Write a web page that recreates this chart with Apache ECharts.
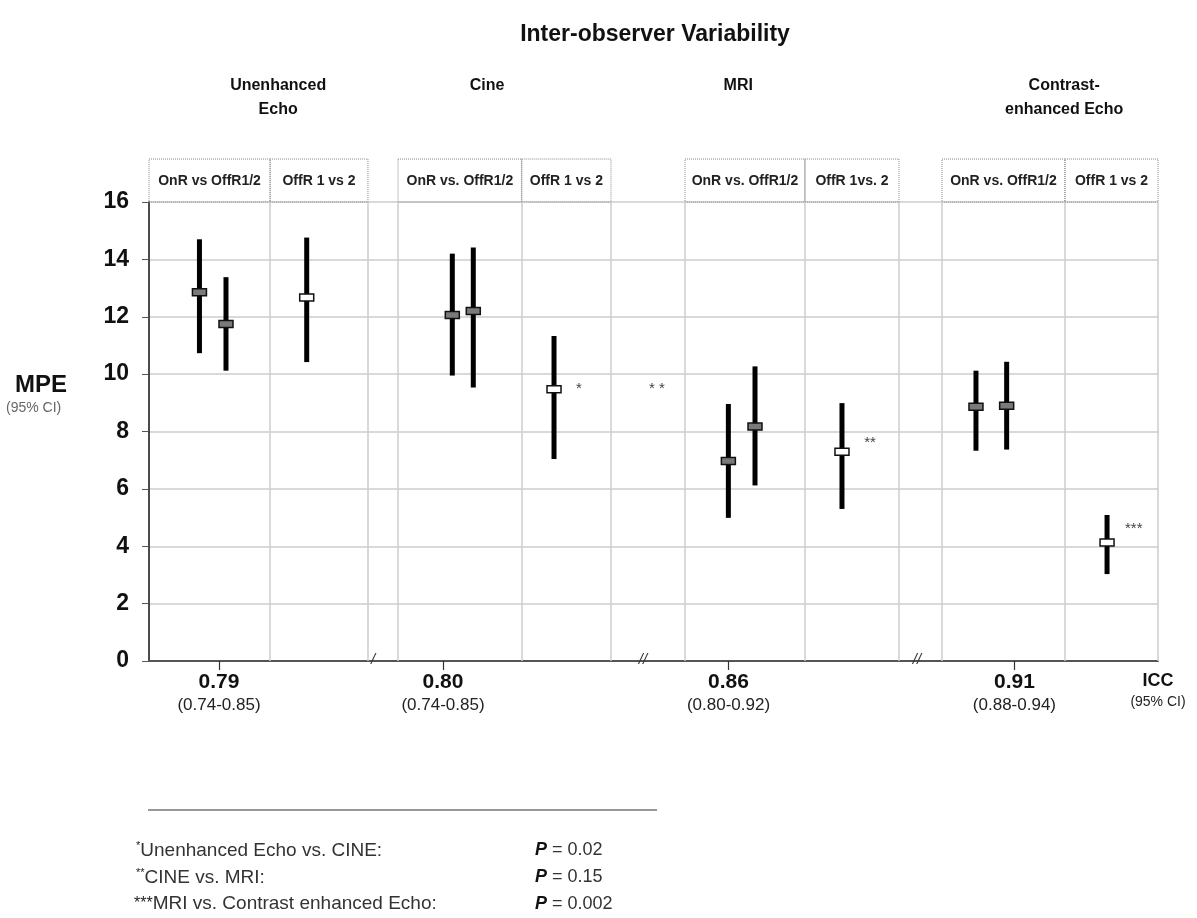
<!DOCTYPE html>
<html>
<head>
<meta charset="utf-8">
<script src="https://cdn.jsdelivr.net/npm/echarts@6/dist/echarts.min.js"></script>
<style>
  * { margin: 0; padding: 0; }
  html, body { background: #fff; }
  #chart { width: 1197px; height: 918px; }
</style>
</head>
<body>
<div id="chart"></div>
<script>
  // x runs 0..100 across the plot; y is MPE (%)
  var yTicks = [0, 2, 4, 6, 8, 10, 12, 14, 16]

  // [x, mean, low, high, offline-vs-offline ? 1 : 0]
  var echoBars = [[5.0, 12.85, 10.73, 14.7, 0], [7.63, 11.75, 10.12, 13.38, 0], [15.63, 12.67, 10.42, 14.76, 1]]
  var cineBars = [[30.06, 12.06, 9.95, 14.2, 0], [32.14, 12.2, 9.53, 14.41, 0], [40.14, 9.47, 7.04, 11.33, 1]]
  var mriBars = [[57.42, 6.97, 4.99, 8.96, 0], [60.06, 8.17, 6.12, 10.27, 0], [68.68, 7.29, 5.3, 8.99, 1]]
  var ceBars = [[81.96, 8.86, 7.33, 10.12, 0], [85.0, 8.9, 7.37, 10.43, 0], [94.95, 4.13, 3.03, 5.09, 1]]

  var gridX = [12.0, 21.7, 24.68, 36.94, 45.79, 53.12, 65.01, 74.33, 78.59, 90.78, 100]

  var groupNames = ['Unenhanced\nEcho', 'Cine', 'MRI', 'Contrast-\nenhanced Echo']
  var groupX = [12.8, 33.5, 58.4, 90.7]

  // header boxes: [from, to, text]
  var headers = [
    [0, 12.0, 'OnR vs OffR1/2'], [12.0, 21.7, 'OffR 1 vs 2'],
    [24.68, 36.94, 'OnR vs. OffR1/2'], [36.94, 45.79, 'OffR 1 vs 2'],
    [53.12, 65.01, 'OnR vs. OffR1/2'], [65.01, 74.33, 'OffR 1vs. 2'],
    [78.59, 90.78, 'OnR vs. OffR1/2'], [90.78, 100, 'OffR 1 vs 2'],
  ]

  var iccX = [6.94, 29.14, 57.43, 85.77]
  var iccValue = ['0.79', '0.80', '0.86', '0.91']
  var iccCI = ['(0.74-0.85)', '(0.74-0.85)', '(0.80-0.92)', '(0.88-0.94)']

  var starNotes = [[42.6, 9.5, '*'], [50.35, 9.5, '* *'], [71.46, 7.6, '**'], [97.6, 4.6, '***']]
  var axisBreaks = [[22.2, '/'], [48.96, '//'], [76.11, '//']]

  var footLabels = ['Unenhanced Echo vs. CINE:', 'CINE vs. MRI:', 'MRI vs. Contrast enhanced Echo:']
  var footMarks = ['*', '**', '***']
  var footP = ['0.02', '0.15', '0.002']

  var allBars = echoBars.concat(cineBars, mriBars, ceBars)

  var chart = echarts.init(document.getElementById('chart'), null, { renderer: 'canvas' })
  var font = 'Liberation Sans, Arial, sans-serif'

  function renderBar(params, api) {
    var x = api.value(0)
    var m = api.coord([x, api.value(1)])
    var lo = api.coord([x, api.value(2)])
    var hi = api.coord([x, api.value(3)])
    return {
      type: 'group',
      children: [
        { type: 'line', shape: { x1: m[0], y1: lo[1], x2: m[0], y2: hi[1] }, style: { stroke: '#000', lineWidth: 5 } },
        {
          type: 'rect',
          shape: { x: m[0] - 7, y: m[1] - 3.5, width: 14, height: 7 },
          style: { fill: api.value(4) ? '#fff' : '#7a7a7a', stroke: '#111', lineWidth: 1.5 },
        },
      ],
    }
  }

  function renderHeader(params, api) {
    var a = api.coord([api.value(0), 16])
    var b = api.coord([api.value(1), 16])
    return {
      type: 'group',
      children: [
        {
          type: 'rect',
          shape: { x: a[0], y: a[1] - 43, width: b[0] - a[0], height: 43 },
          style: { fill: 'none', stroke: '#888', lineWidth: 1, lineDash: [1, 1] },
        },
        {
          type: 'text',
          x: (a[0] + b[0]) / 2,
          y: a[1] - 21,
          style: {
            text: headers[params.dataIndex][2], align: 'center', verticalAlign: 'middle',
            font: 'bold 14px ' + font, fill: '#222',
          },
        },
      ],
    }
  }

  function renderGroup(params, api) {
    var p = api.coord([api.value(0), 16])
    return {
      type: 'text',
      x: p[0],
      y: p[1] - 128,
      style: {
        text: groupNames[params.dataIndex], align: 'center', verticalAlign: 'top',
        font: 'bold 16px ' + font, fill: '#111', lineHeight: 24,
      },
    }
  }

  function renderNote(params, api) {
    var p = api.coord([api.value(0), api.value(1)])
    return {
      type: 'text', x: p[0], y: p[1],
      style: { text: starNotes[params.dataIndex][2], align: 'center', verticalAlign: 'middle', font: '15px ' + font, fill: '#444' },
    }
  }

  function renderBreak(params, api) {
    var p = api.coord([api.value(0), 0])
    return {
      type: 'text', x: p[0], y: p[1] - 1,
      style: { text: axisBreaks[params.dataIndex][1], align: 'center', verticalAlign: 'middle', font: 'italic 15px ' + font, fill: '#333' },
    }
  }

  var iccLabelX = iccX.concat([100])

  var option = {
    backgroundColor: '#fff',
    animation: false,
    title: {
      text: 'Inter-observer Variability',
      left: 650, top: 18, textAlign: 'center',
      textStyle: { fontFamily: font, fontWeight: 'bold', fontSize: 23, color: '#111' },
    },
    grid: { left: 149, right: 39, top: 202, bottom: 257 },
    xAxis: {
      type: 'value', min: 0, max: 100,
      axisLine: { show: true, lineStyle: { color: '#555', width: 2 } },
      axisTick: { show: true, customValues: iccX, length: 9, lineStyle: { color: '#333', width: 1.2 } },
      axisLabel: {
        show: true, customValues: iccLabelX, margin: 8,
        formatter: function (v) {
          var i = iccX.indexOf(v)
          if (i < 0) return '{h|ICC}\n{c|(95% CI)}'
          return '{b|' + iccValue[i] + '}\n{s|' + iccCI[i] + '}'
        },
        rich: {
          b: { fontFamily: font, fontWeight: 'bold', fontSize: 21, color: '#111', lineHeight: 26 },
          s: { fontFamily: font, fontSize: 17, color: '#222', lineHeight: 20 },
          h: { fontFamily: font, fontWeight: 'bold', fontSize: 18, color: '#111', lineHeight: 24 },
          c: { fontFamily: font, fontSize: 14, color: '#222', lineHeight: 18 },
        },
      },
      splitLine: { show: false },
    },
    yAxis: {
      type: 'value', min: 0, max: 16, interval: 2,
      axisLine: { show: true, lineStyle: { color: '#111', width: 1.5 } },
      axisTick: { show: true, length: 7, lineStyle: { color: '#555' } },
      axisLabel: { fontFamily: font, fontWeight: 'bold', fontSize: 23, color: '#111', margin: 20 },
      splitLine: { show: true, lineStyle: { color: '#cdcdcd', width: 1.5 } },
    },
    graphic: [
      { type: 'text', left: 15, top: 373, style: { text: 'MPE', font: 'bold 24px ' + font, fill: '#111' } },
      { type: 'text', left: 6, top: 401, style: { text: '(95% CI)', font: '14px ' + font, fill: '#666' } },
      { type: 'line', shape: { x1: 148, y1: 810, x2: 657, y2: 810 }, style: { stroke: '#333', lineWidth: 1.2 } },
    ].concat(footLabels.map(function (t, i) {
      var sup = i < 2
      return {
        type: 'text', left: 136 + (i === 2 ? -2 : 0), top: 840 + i * 27,
        style: {
          text: (sup ? '{m|' + footMarks[i] + '}' : '{n|' + footMarks[i] + '}') + '{t|' + t + '}',
          rich: {
            m: { fontFamily: font, fontSize: 11, fill: '#222', verticalAlign: 'top', padding: [0, 0, 10, 0] },
            n: { fontFamily: font, fontSize: 16, fill: '#222' },
            t: { fontFamily: font, fontSize: 19, fill: '#333' },
          },
        },
      }
    }), footP.map(function (p, i) {
      return {
        type: 'text', left: 535, top: 841 + i * 27,
        style: {
          text: '{p|P}{t| = ' + p + '}',
          rich: {
            p: { fontFamily: font, fontSize: 18, fontWeight: 'bold', fontStyle: 'italic', fill: '#111' },
            t: { fontFamily: font, fontSize: 18, fill: '#333' },
          },
        },
      }
    })),
    series: [
      {
        name: 'grid',
        type: 'line',
        data: [],
        markLine: {
          silent: true, symbol: 'none', label: { show: false },
          lineStyle: { color: '#cdcdcd', width: 1.5, type: 'solid' },
          data: gridX.map(function (v) { return { xAxis: v } }),
        },
      },
      {
        name: 'headers', type: 'custom', clip: false, silent: true,
        renderItem: renderHeader, encode: { x: [0, 1] }, data: headers,
      },
      {
        name: 'groups', type: 'custom', clip: false, silent: true,
        renderItem: renderGroup, encode: { x: 0 }, data: groupX.map(function (v) { return [v] }),
      },
      {
        name: 'MPE', type: 'custom', clip: false,
        renderItem: renderBar, encode: { x: 0, y: [1, 2, 3] }, data: allBars,
      },
      {
        name: 'notes', type: 'custom', clip: false, silent: true,
        renderItem: renderNote, encode: { x: 0, y: 1 }, data: starNotes,
      },
      {
        name: 'breaks', type: 'custom', clip: false, silent: true,
        renderItem: renderBreak, encode: { x: 0 }, data: axisBreaks,
      },
    ],
  }

  chart.setOption(option)
  window.addEventListener('resize', chart.resize)
</script>
</body>
</html>
